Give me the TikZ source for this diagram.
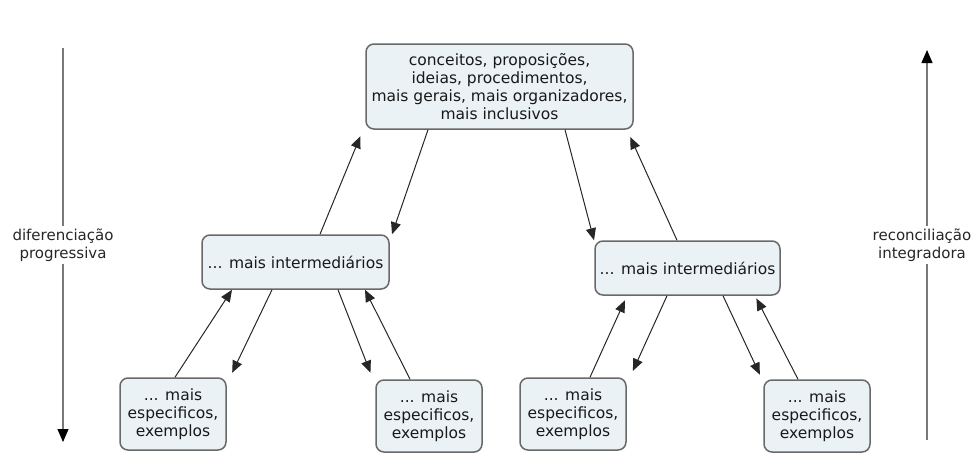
\documentclass[tikz,border=0pt]{standalone}
\usepackage{fontspec}
\setmainfont{DejaVu Sans}
\usetikzlibrary{arrows.meta}
\definecolor{boxfill}{RGB}{234,242,246}
\definecolor{boxline}{RGB}{105,105,105}
\definecolor{sideline}{RGB}{120,120,120}
\tikzset{
  cbox/.style={draw=boxline, line width=1.5pt, fill=boxfill, rounded corners=8pt,
    align=center, font=\fontsize{15.5}{18}\selectfont, inner sep=1pt, text=black!90},
  arr/.style={-{Triangle[length=12pt,width=10pt]}, line width=1pt, draw=black!85},
  sidearr/.style={line width=1.6pt, draw=sideline},
  sidetip/.style={-{Triangle[length=13pt,width=11pt]}, line width=1pt, draw=black},
  sidelab/.style={align=center, font=\fontsize{15}{18}\selectfont, text=black!85, inner sep=2pt}
}
\begin{document}
\begin{tikzpicture}[x=1pt,y=-1pt]
\useasboundingbox (0,0) rectangle (974,453);
% boxes
\node[cbox, minimum width=267pt, minimum height=85pt] (top) at (499.5,86.5)
  {conceitos, proposições,\\ideias, procedimentos,\\mais gerais, mais organizadores,\\mais inclusivos};
\node[cbox, minimum width=187pt, minimum height=54pt] (lm) at (295.5,262) {... mais intermediários};
\node[cbox, minimum width=185pt, minimum height=54pt] (rm) at (687.5,268) {... mais intermediários};
\node[cbox, minimum width=106pt, minimum height=72pt] (b1) at (173,414) {... mais\\especificos,\\exemplos};
\node[cbox, minimum width=106pt, minimum height=72pt] (b2) at (429,416) {... mais\\especificos,\\exemplos};
\node[cbox, minimum width=106pt, minimum height=72pt] (b3) at (573,414) {... mais\\especificos,\\exemplos};
\node[cbox, minimum width=106pt, minimum height=72pt] (b4) at (817,416) {... mais\\especificos,\\exemplos};
% connectors
\draw[arr, shorten >=7pt] (320,0 |- lm.north) -- (363,0 |- top.south);
\draw[arr] (428,0 |- top.south) -- (392,0 |- lm.north);
\draw[arr] (565,0 |- top.south) -- (594,0 |- rm.north);
\draw[arr, shorten >=8pt] (677,0 |- rm.north) -- (627,0 |- top.south);
\draw[arr] (175,0 |- b1.north) -- (232,0 |- lm.south);
\draw[arr, shorten >=5pt] (272,0 |- lm.south) -- (230,0 |- b1.north);
\draw[arr, shorten >=7pt] (338,0 |- lm.south) -- (373,0 |- b2.north);
\draw[arr] (410,0 |- b2.north) -- (365,0 |- lm.south);
\draw[arr, shorten >=5pt] (590,0 |- b3.north) -- (627,0 |- rm.south);
\draw[arr, shorten >=7pt] (667,0 |- rm.south) -- (630,0 |- b3.north);
\draw[arr, shorten >=5pt] (723,0 |- rm.south) -- (762,0 |- b4.north);
\draw[arr, shorten >=3pt] (798,0 |- b4.north) -- (755,0 |- rm.south);
% side arrows
\coordinate (lt) at (63,48);
\coordinate (lb) at (63,442);
\coordinate (lb2) at (63,440);
\node[sidelab] (ll) at (63,245) {diferenciação\\progressiva};
\draw[sidearr] (lt) -- (ll.north);
\draw[sidearr] (ll.south) -- (lb2);
\draw[sidetip] (lb2) -- (lb);
\coordinate (rt) at (927,50);
\coordinate (rt2) at (927,52);
\coordinate (rb) at (927,440);
\node[sidelab] (rl) at (922,245) {reconciliação\\integradora};
\draw[sidearr] (rb) -- (rl.south -| rb);
\draw[sidearr] (rl.north -| rt) -- (rt2);
\draw[sidetip] (rt2) -- (rt);
\end{tikzpicture}
\end{document}
